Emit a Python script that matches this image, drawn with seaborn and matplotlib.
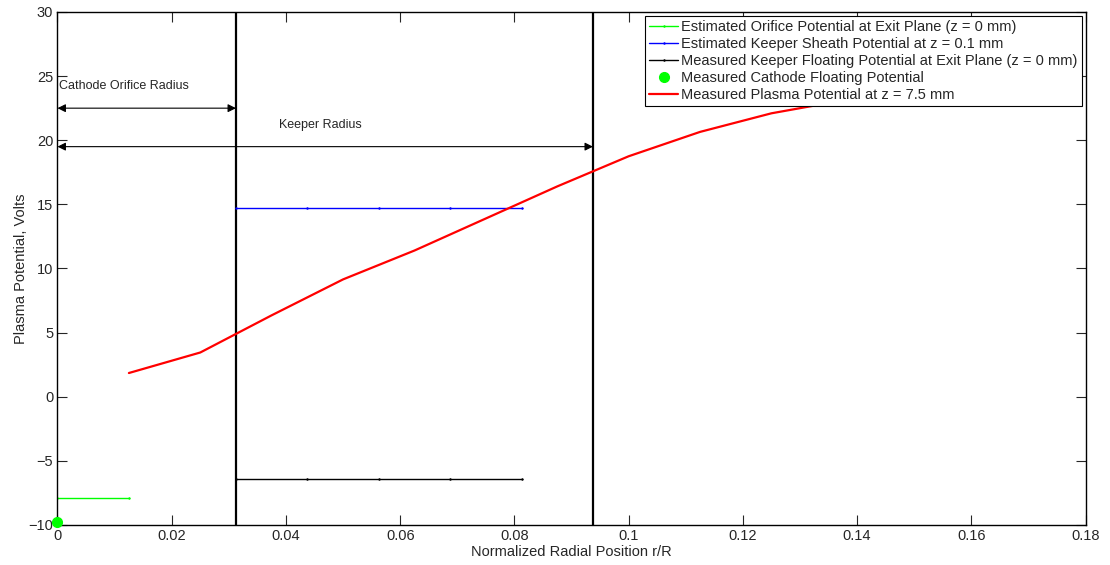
import numpy as np
import pandas as pd
import seaborn as sns
import matplotlib.pyplot as plt

# Measured plasma potential at z = 7.5 mm
plasma_r = [0.0125, 0.025, 0.0375, 0.05, 0.0625, 0.075, 0.0875, 0.1, 0.1125, 0.125, 0.1375]
plasma_v = [1.85, 3.45, 6.35, 9.15, 11.4, 13.9, 16.4, 18.75, 20.65, 22.1, 23.1]

# Estimated orifice potential at exit plane
orifice_r = [0.0, 0.0125]
orifice_v = [-7.9, -7.9]

# Keeper sheath / floating potential
keeper_r = [0.03125, 0.04375, 0.05625, 0.06875, 0.08125]
sheath_v = [14.7, 14.7, 14.7, 14.7, 14.7]
floating_v = [-6.45, -6.45, -6.45, -6.45, -6.45]

# Cathode floating potential
cathode_r = [0.0]
cathode_v = [-9.8]

orifice_radius = 0.03125
keeper_radius = 0.09375

sns.set_style('ticks')
plt.rcParams['font.family'] = ['Liberation Sans', 'DejaVu Sans']

fig, ax = plt.subplots(figsize=(11.1, 5.65), dpi=100)
fig.subplots_adjust(left=0.0518, right=0.978, bottom=0.0708, top=0.9788)

ax.axvline(orifice_radius, color='black', lw=1.6, zorder=2)
ax.axvline(keeper_radius, color='black', lw=1.6, zorder=2)

sns.lineplot(x=orifice_r, y=orifice_v, color='#00ff00', lw=1, marker='.', markersize=2,
             markeredgecolor='#00ff00', ax=ax,
             label='Estimated Orifice Potential at Exit Plane (z = 0 mm)')
sns.lineplot(x=keeper_r, y=sheath_v, color='blue', lw=1, marker='.', markersize=2,
             markeredgecolor='blue', ax=ax,
             label='Estimated Keeper Sheath Potential at z = 0.1 mm')
sns.lineplot(x=keeper_r, y=floating_v, color='black', lw=1, marker='.', markersize=2,
             markeredgecolor='black', ax=ax,
             label='Measured Keeper Floating Potential at Exit Plane (z = 0 mm)')
ax.plot(cathode_r, cathode_v, 'o', color='#00ff00', markersize=7, clip_on=False, zorder=5,
        label='Measured Cathode Floating Potential')
df = pd.DataFrame({'r': plasma_r, 'v': plasma_v})
sns.lineplot(data=df, x='r', y='v', color='red', lw=1.6, sort=False, estimator=None,
             ax=ax, label='Measured Plasma Potential at z = 7.5 mm')

# radius arrows
arrow = dict(arrowstyle='<|-|>', color='black', lw=0.8, mutation_scale=12, shrinkA=0, shrinkB=0)
ax.annotate('', xy=(0, 22.5), xytext=(orifice_radius, 22.5), arrowprops=arrow)
ax.annotate('', xy=(0, 19.5), xytext=(keeper_radius, 19.5), arrowprops=arrow)
ax.text(0.0117, 24.2, 'Cathode Orifice Radius', ha='center', va='center', fontsize=9)
ax.text(0.0460, 21.2, 'Keeper Radius', ha='center', va='center', fontsize=9)

ax.set_xlim(0, 0.18)
ax.set_ylim(-10, 30)
ax.set_xticks(np.arange(0, 0.181, 0.02))
ax.set_xticklabels(['0', '0.02', '0.04', '0.06', '0.08', '0.1', '0.12', '0.14', '0.16', '0.18'])
ax.set_yticks(np.arange(-10, 31, 5))
ax.tick_params(direction='in', top=True, right=True, length=7, width=0.8, labelsize=10.5, pad=3)
for s in ax.spines.values():
    s.set_linewidth(1.0)
    s.set_color('black')

ax.set_xlabel('Normalized Radial Position r/R', fontsize=10.5, labelpad=1)
ax.set_ylabel('Plasma Potential, Volts', fontsize=10.5, labelpad=0)

leg = ax.legend(loc='upper right', fontsize=10.5, frameon=True, fancybox=False, framealpha=1,
                edgecolor='black', handlelength=2.0, handletextpad=0.2, borderpad=0.3,
                labelspacing=0.2, borderaxespad=0.25)
leg.get_frame().set_linewidth(0.8)

plt.savefig('out.png', dpi=100)
